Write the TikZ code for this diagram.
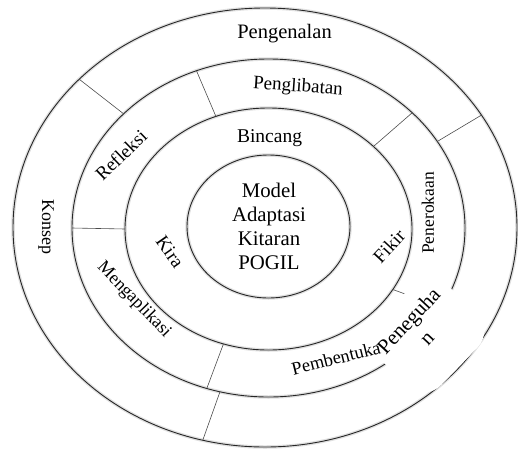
\documentclass[tikz,border=0pt]{standalone}
\usepackage{fontspec}
\setmainfont{Liberation Serif}
\usetikzlibrary{calc}
\newcommand\setfs[1]{\fontsize{#1}{#1}\selectfont\rmfamily}
\begin{document}
\begin{tikzpicture}[x=1pt,y=-1pt,
  ring/.style={draw=black!85, line width=0.9pt},
  ringshadow/.style={draw=black!12, line width=3.5pt},
  divider/.style={draw=black!70, line width=0.6pt},
  lbl/.style={inner sep=0pt, text=black},
]
\useasboundingbox (0,0) rectangle (518,450);
\coordinate (c1) at (265,227.5);
\coordinate (c2) at (268.5,228);
\coordinate (c3) at (268.5,229);
\coordinate (c4) at (268.5,226.5);
% soft shadows
\begin{scope}[shift={(1,2)}]
\draw[ringshadow] (c1) ellipse [x radius=252, y radius=219.5];
\draw[ringshadow] (c2) ellipse [x radius=196.5, y radius=169];
\draw[ringshadow] (c3) ellipse [x radius=143.5, y radius=121];
\draw[ringshadow] (c4) ellipse [x radius=81.5, y radius=71.5];
\end{scope}
% rings
\draw[ring] (c1) ellipse [x radius=252, y radius=219.5];
\draw[ring] (c2) ellipse [x radius=196.5, y radius=169];
\draw[ring] (c3) ellipse [x radius=143.5, y radius=121];
\draw[ring] (c4) ellipse [x radius=81.5, y radius=71.5];
% dividers of the outer ring
\foreach \t in {-137.5,-30.8,104.3}
  \draw[divider] ($(c1)+(\t:252 and 219.5)$) -- ($(c2)+(\t:196.5 and 169)$);
% dividers of the middle ring
\foreach \t in {-111.5,-43,180,108.3}
  \draw[divider] ($(c2)+(\t:196.5 and 169)$) -- ($(c3)+(\t:143.5 and 121)$);
\draw[divider] ($(c3)+(30:143.5 and 121)$) -- ($(c2)+(28:196.5 and 169)$);
% white text box
\node[fill=white, draw=none, rounded corners=24pt, minimum width=100pt, minimum height=90pt, rotate=46] (box) at (427,335) {};
% labels
\node[lbl, font=\setfs{20.5}, anchor=base] (pengenalan) at (284.5,38.5) {Pengenalan};
\node[lbl, font=\setfs{19}, rotate=-4] (penglibatan) at (298,87) {Penglibatan};
\node[lbl, font=\setfs{19.5}, anchor=base] (bincang) at (269.5,142) {Bincang};
\node[lbl, font=\setfs{20.8}, anchor=base] (m1) at (269,197) {Model};
\node[lbl, font=\setfs{20.8}, anchor=base] (m2) at (269,221) {Adaptasi};
\node[lbl, font=\setfs{20.8}, anchor=base] (m3) at (269,245) {Kitaran};
\node[lbl, font=\setfs{20.8}, anchor=base] (m4) at (269,269) {POGIL};
\node[lbl, font=\setfs{18}, rotate=-90] (konsep) at (46,227) {Konsep};
\node[lbl, font=\setfs{19}, rotate=44] (refleksi) at (121,155) {Refleksi};
\node[lbl, font=\setfs{17.5}, rotate=90] (penerokaan) at (428,213) {Penerokaan};
\node[lbl, font=\setfs{19}, rotate=-55] (kira) at (170,252) {Kira};
\node[lbl, font=\setfs{19}, rotate=47] (fikir) at (389,246) {Fikir};
\node[lbl, font=\setfs{18}, rotate=-46] (mengaplikasi) at (134,300) {Mengaplikasi};
\node[lbl, font=\setfs{18.4}, rotate=14] (pembentuka) at (336,358) {Pembentuka};
\node[lbl, font=\setfs{21}, rotate=47] (peneguha) at (410,322) {Peneguha};
\node[lbl, font=\setfs{21}, rotate=47] (pn) at (428,339) {n};
\end{tikzpicture}
\end{document}
